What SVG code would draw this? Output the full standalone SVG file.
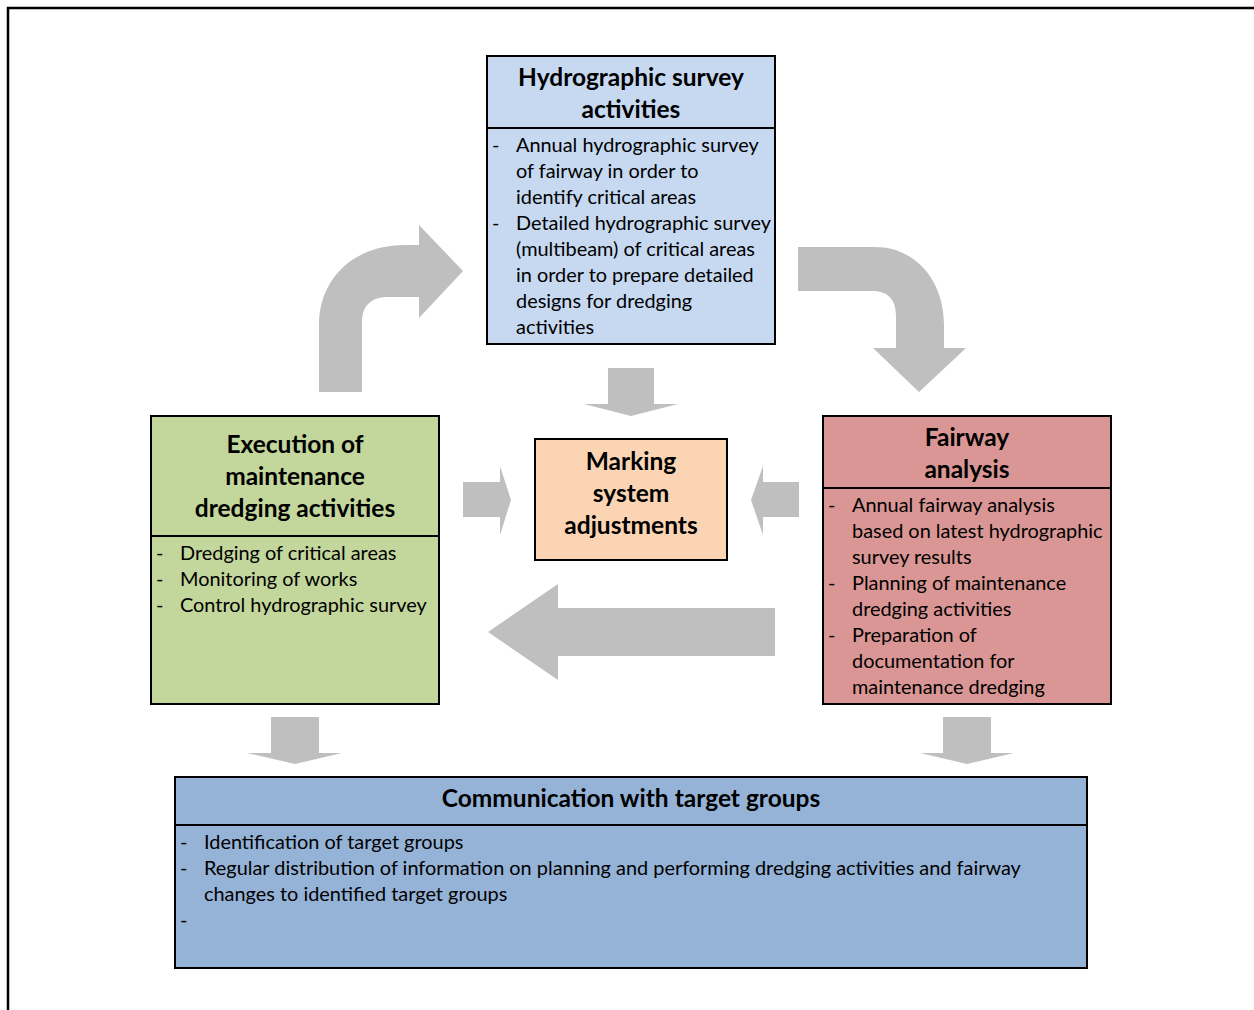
<svg xmlns="http://www.w3.org/2000/svg" width="1254" height="1010" viewBox="0 0 1254 1010">
<style>
.box{stroke:#000;stroke-width:2}
.div{stroke:#000;stroke-width:2}
.t{font-family:Lato,"Liberation Sans",sans-serif;font-weight:bold;font-size:24.5px;fill:#000;text-anchor:middle}
.b{font-family:Lato,"Liberation Sans",sans-serif;font-size:19.9px;fill:#000}
.arr{fill:#BFBFBF}
</style>
<rect width="1254" height="1010" fill="#fff"/>
<path d="M8,1012 V8 H1256" fill="none" stroke="#000" stroke-width="2.5"/>

<g id="connectors">
<path class="arr" d="M319,392 L319,325 C319,280 352,245 405,245 L419,245 L419,225 L463,271 L419,318 L419,297 L388,297 C372,297 362,305 362,322 L362,392 Z"/>
<path class="arr" d="M798,247 L875,247 C915,247 944,280 944,325 L944,348 L966,348 L919,392 L873,348 L896,348 L896,316 C896,300 888,291 873,291 L798,291 Z"/>
<path class="arr" d="M608,368 L654,368 L654,404 L678,404 L631,416 L584,404 L608,404 Z"/>
<path class="arr" d="M463,482 L500,482 L500,466 L511,500 L500,535 L500,517 L463,517 Z"/>
<path class="arr" d="M799,482 L763,482 L763,466 L751,500 L763,535 L763,517 L799,517 Z"/>
<path class="arr" d="M775,608 L558,608 L558,584 L488,632 L558,680 L558,656 L775,656 Z"/>
<path class="arr" d="M271,717 L319,717 L319,753 L342,753 L295,764 L247,753 L271,753 Z"/>
<path class="arr" d="M943,717 L991,717 L991,753 L1014,753 L967,764 L920,753 L943,753 Z"/>
</g>

<g id="hydro">
<rect class="box" x="487" y="56" width="288" height="288" fill="#C6D9F1"/>
<line class="div" x1="487" y1="128" x2="775" y2="128"/>
<text class="t" x="631" y="86">Hydrographic survey</text>
<text class="t" x="631" y="118">activities</text>
<g class="b">
<text x="492" y="152">-</text><text x="516" y="152">Annual hydrographic survey</text>
<text x="516" y="178">of fairway in order to</text>
<text x="516" y="204">identify critical areas</text>
<text x="492" y="230">-</text><text x="516" y="230">Detailed hydrographic survey</text>
<text x="516" y="256">(multibeam) of critical areas</text>
<text x="516" y="282">in order to prepare detailed</text>
<text x="516" y="308">designs for dredging</text>
<text x="516" y="334">activities</text>
</g>
</g>

<g id="execution">
<rect class="box" x="151" y="416" width="288" height="288" fill="#C3D69B"/>
<line class="div" x1="151" y1="536" x2="439" y2="536"/>
<text class="t" x="295" y="453">Execution of</text>
<text class="t" x="295" y="485">maintenance</text>
<text class="t" x="295" y="517">dredging activities</text>
<g class="b">
<text x="156" y="560">-</text><text x="180" y="560">Dredging of critical areas</text>
<text x="156" y="586">-</text><text x="180" y="586">Monitoring of works</text>
<text x="156" y="612">-</text><text x="180" y="612">Control hydrographic survey</text>
</g>
</g>

<g id="marking">
<rect class="box" x="535" y="439" width="192" height="121" fill="#FBD4B4"/>
<text class="t" x="631" y="470">Marking</text>
<text class="t" x="631" y="502">system</text>
<text class="t" x="631" y="534">adjustments</text>
</g>

<g id="fairway">
<rect class="box" x="823" y="416" width="288" height="288" fill="#D99694"/>
<line class="div" x1="823" y1="488" x2="1111" y2="488"/>
<text class="t" x="967" y="446">Fairway</text>
<text class="t" x="967" y="478">analysis</text>
<g class="b">
<text x="828" y="512">-</text><text x="852" y="512">Annual fairway analysis</text>
<text x="852" y="538">based on latest hydrographic</text>
<text x="852" y="564">survey results</text>
<text x="828" y="590">-</text><text x="852" y="590">Planning of maintenance</text>
<text x="852" y="616">dredging activities</text>
<text x="828" y="642">-</text><text x="852" y="642">Preparation of</text>
<text x="852" y="668">documentation for</text>
<text x="852" y="694">maintenance dredging</text>
</g>
</g>

<g id="communication">
<rect class="box" x="175" y="777" width="912" height="191" fill="#95B3D7"/>
<line class="div" x1="175" y1="825" x2="1087" y2="825"/>
<text class="t" x="631" y="807">Communication with target groups</text>
<g class="b">
<text x="180" y="849">-</text><text x="204" y="849">Identification of target groups</text>
<text x="180" y="875">-</text><text x="204" y="875">Regular distribution of information on planning and performing dredging activities and fairway</text>
<text x="204" y="901">changes to identified target groups</text>
<text x="180" y="927">-</text>
</g>
</g>
</svg>
